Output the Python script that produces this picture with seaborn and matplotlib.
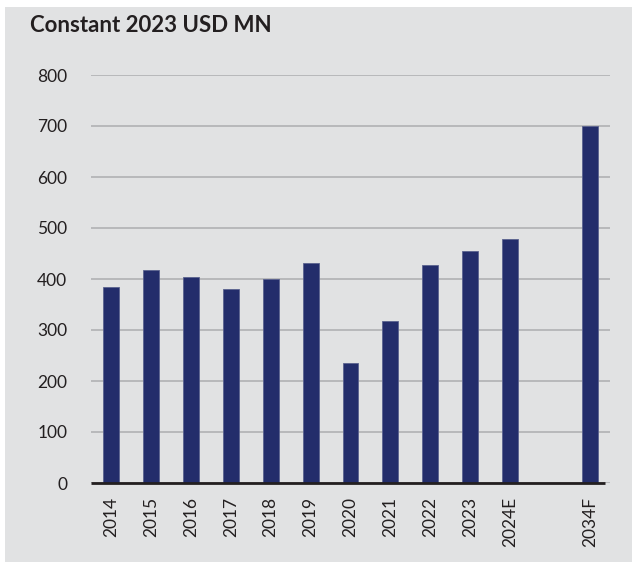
import matplotlib
matplotlib.use("Agg")
import matplotlib.pyplot as plt
import seaborn as sns
import pandas as pd
from matplotlib.patches import Rectangle

years = ["2014", "2015", "2016", "2017", "2018", "2019", "2020", "2021",
         "2022", "2023", "2024E", "2034F"]
values = [384, 418, 404, 380, 400, 431, 235, 318, 427, 455, 478, 700]
order = years[:11] + [" "] + years[11:]
yticks = [0, 100, 200, 300, 400, 500, 600, 700, 800]

BG = "#e1e2e3"
BAR = "#232d6b"

sns.set_theme(style="white")
plt.rcParams["font.family"] = ["Lato", "DejaVu Sans"]

fig = plt.figure(figsize=(6.32, 5.67), dpi=100)
fig.patch.set_facecolor("white")
fig.patches.append(Rectangle((5 / 632, 5 / 567), 627 / 632, 555 / 567,
                             transform=fig.transFigure, facecolor=BG,
                             edgecolor="none", zorder=-10))

ax = fig.add_axes([91 / 632, 1 - 483 / 567, 519 / 632, 408 / 567])
ax.set_facecolor(BG)

df = pd.DataFrame({"year": years, "value": values})
sns.barplot(data=df, x="year", y="value", order=order, color=BAR,
            width=0.4, saturation=1, edgecolor="#5a628f", linewidth=0.6,
            ax=ax, zorder=3)

ax.set_xlim(-0.5, 12.5)
ax.set_ylim(0, 800)
ax.set_yticks(yticks)
ax.set_yticklabels([str(t) for t in yticks], fontsize=12.5, color="#231f20")
ax.yaxis.grid(True, color="#b4b5b7", linewidth=1.3, zorder=0)
ax.set_axisbelow(True)
ax.tick_params(axis="y", length=0, pad=17)
ax.tick_params(axis="x", length=0, pad=10)
ax.set_xticks(range(len(order)))
ax.set_xticklabels(order, rotation=90, fontsize=12.5, color="#231f20")
ax.set_xlabel("")
ax.set_ylabel("")
for s in ax.spines.values():
    s.set_visible(False)
ax.plot([-0.5, 12.37], [0, 0], color="#231f20", linewidth=2, zorder=4,
        clip_on=False, solid_capstyle="butt")

fig.text(30 / 632, 1 - 26 / 567, "Constant 2023 USD MN", fontsize=16,
         fontweight="bold", color="#231f20", va="center", ha="left")

fig.savefig("out.png", dpi=100, facecolor="white")
